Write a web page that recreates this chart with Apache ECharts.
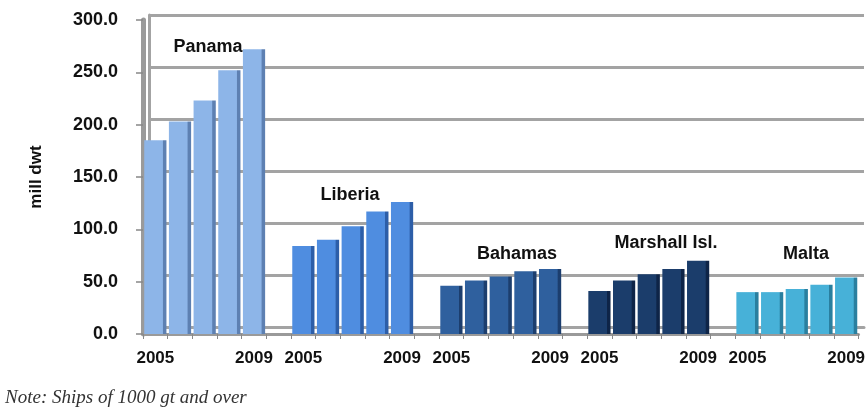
<!DOCTYPE html>
<html>
<head>
<meta charset="utf-8">
<script src="https://cdn.jsdelivr.net/npm/echarts@6/dist/echarts.min.js"></script>
<style>
  html, body { margin: 0; padding: 0; background: #fff; }
  #chart { width: 868px; height: 414px; }
</style>
</head>
<body>
<div id="chart"></div>
<script>
// Registered fleet by flag of registration, 2005-2009 (million dwt)
const flags = ['Panama', 'Liberia', 'Bahamas', 'Marshall Isl.', 'Malta'];
const years = ['2005', '2006', '2007', '2008', '2009'];
const panama = [185, 203, 223, 252, 272];
const liberia = [84, 90, 103, 117, 126];
const bahamas = [46, 51, 55, 60, 62];
const marshall = [41, 51, 57, 62, 70];
const malta = [40, 40, 43, 47, 54];
const yTicks = [0, 50, 100, 150, 200, 250, 300];

const groupValues = [panama, liberia, bahamas, marshall, malta];
const faceColors = ['#8db5e8', '#4f8de0', '#2f609e', '#1b3d6b', '#47b1d8'];
const sideColors = ['#5d80b2', '#2d5ea8', '#1c3e6e', '#0e2447', '#2a7f9f'];

// Flatten groups into one category axis, with an empty slot between groups
const categories = [];
const barData = [];
groupValues.forEach((vals, g) => {
  vals.forEach((v, i) => {
    categories.push(years[i]);
    barData.push({
      value: v,
      itemStyle: {
        color: {
          type: 'linear', x: 0, y: 0, x2: 1, y2: 0,
          colorStops: [
            { offset: 0, color: faceColors[g] },
            { offset: 0.82, color: faceColors[g] },
            { offset: 0.86, color: sideColors[g] },
            { offset: 1, color: sideColors[g] }
          ]
        }
      }
    });
  });
  if (g < groupValues.length - 1) {
    categories.push('');
    barData.push('-');
  }
});

const chart = echarts.init(document.getElementById('chart'));

const boldFont = { fontFamily: 'Liberation Sans', fontWeight: 'bold', fontSize: 18, fill: '#111', align: 'center', verticalAlign: 'middle' };
const wallGray = '#a3a3a3';

// Flag names above each group of bars
const flagLabelSpots = [[208, 47], [350, 195], [517, 254], [666, 243], [806, 254]];

chart.setOption({
  animation: false,
  grid: [
    // front plane: bars, ticks and labels
    { left: 143, right: 6, top: 20, bottom: 80 },
    // back wall: gridlines set slightly up and to the right
    { left: 149, right: 4, top: 15, bottom: 87 }
  ],
  xAxis: [
    {
      type: 'category',
      gridIndex: 0,
      data: categories,
      axisLine: { lineStyle: { color: '#9a9a9a', width: 3 } },
      axisTick: { show: true, interval: 0, length: 5, lineStyle: { color: '#888' } },
      axisLabel: {
        interval: 0,
        margin: 16,
        fontFamily: 'Liberation Sans',
        fontWeight: 'bold',
        fontSize: 17,
        color: '#111',
        formatter: (v, idx) => {
          const pos = idx % 6;
          return (pos === 0 || pos === 4) ? v : '';
        }
      }
    },
    {
      type: 'category',
      gridIndex: 1,
      data: categories,
      axisLine: { lineStyle: { color: wallGray, width: 3 } },
      axisTick: { show: false },
      axisLabel: { show: false }
    }
  ],
  yAxis: [
    {
      type: 'value',
      gridIndex: 0,
      min: 0,
      max: 300,
      interval: 50,
      name: 'mill dwt',
      nameLocation: 'middle',
      nameGap: 98,
      nameRotate: 90,
      nameTextStyle: { fontFamily: 'Liberation Sans', fontWeight: 'bold', fontSize: 17, color: '#111' },
      axisLine: { show: true, lineStyle: { color: '#9a9a9a', width: 5 } },
      axisTick: { show: true, length: 7, lineStyle: { color: '#888', width: 1.5 } },
      axisLabel: {
        margin: 25,
        fontFamily: 'Liberation Sans',
        fontWeight: 'bold',
        fontSize: 18,
        color: '#111',
        formatter: v => yTicks.includes(v) ? v.toFixed(1) : ''
      },
      splitLine: { show: false }
    },
    {
      type: 'value',
      gridIndex: 1,
      min: 0,
      max: 300,
      interval: 50,
      axisLine: { show: true, lineStyle: { color: wallGray, width: 3 } },
      axisTick: { show: false },
      axisLabel: { show: false },
      splitLine: { lineStyle: { color: wallGray, width: 3 } }
    }
  ],
  series: [{
    type: 'bar',
    xAxisIndex: 0,
    yAxisIndex: 0,
    data: barData,
    barCategoryGap: '10%'
  }],
  graphic: flags.map((name, i) => ({
    type: 'text',
    x: flagLabelSpots[i][0],
    y: flagLabelSpots[i][1],
    style: Object.assign({ text: name }, boldFont)
  })).concat([{
    type: 'text', left: 5, top: 388,
    style: {
      text: 'Note: Ships of 1000 gt and over',
      fontFamily: 'Liberation Serif', fontStyle: 'italic', fontSize: 19, fill: '#333'
    }
  }])
});
</script>
</body>
</html>
